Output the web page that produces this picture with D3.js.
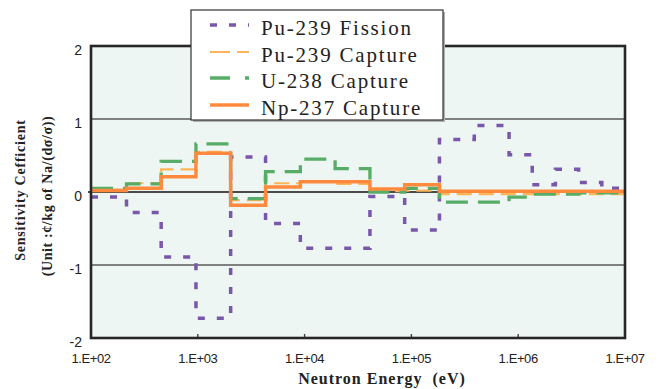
<!DOCTYPE html>
<html>
<head>
<meta charset="utf-8">
<script src="https://cdn.jsdelivr.net/npm/d3@7"></script>
<style>
  html, body { margin: 0; padding: 0; background: #ffffff; }
  svg { display: block; }
</style>
</head>
<body>
<svg id="chart" width="660" height="389"></svg>
<script>
// ---- Data ----
// Energy group boundaries (eV)
const boundaries = [1e2, 2.15e2, 4.54e2, 9.61e2, 2.03e3, 4.31e3, 9.12e3, 1.93e4, 4.09e4, 8.65e4,
                    1.83e5, 3.88e5, 8.21e5, 1.353e6, 2.231e6, 3.679e6, 6.065e6, 1e7];
// Sensitivity values per group (one value per interval)
const pu239Fission = [-0.07, -0.28, -0.89, -1.73, 0.48, -0.43, -0.77, -0.77, -0.06, -0.52,
                      0.72, 0.91, 0.51, 0.10, 0.31, 0.13, 0.05];
const pu239Capture = [0.03, 0.12, 0.31, 0.55, -0.11, 0.12, 0.14, 0.11, 0.01, 0.02,
                      -0.03, -0.03, -0.03, -0.03, -0.03, -0.03, -0.03];
const u238Capture  = [0.05, 0.11, 0.42, 0.66, -0.09, 0.28, 0.45, 0.32, 0.00, 0.05,
                      -0.14, -0.14, -0.07, -0.03, -0.03, -0.01, -0.01];
const np237Capture = [0.02, 0.05, 0.21, 0.53, -0.18, 0.07, 0.14, 0.14, 0.04, 0.10,
                      0.01, 0.01, 0.01, 0.01, 0.01, 0.01, 0.01];
const seriesNames = ["Pu-239 Fission", "Pu-239 Capture", "U-238 Capture", "Np-237 Capture"];
const xTickValues = [1e2, 1e3, 1e4, 1e5, 1e6, 1e7];
const xTickLabels = ["1.E+02", "1.E+03", "1.E+04", "1.E+05", "1.E+06", "1.E+07"];
const yTickValues = [2, 1, 0, -1, -2];

// ---- Styles ----
const styles = [
  { color: "#7957aa", width: 3.5, dash: "7,12",  legendDash: "7,12" },
  { color: "#fdb55a", width: 2.2, dash: "15,7",  legendDash: "20,7" },
  { color: "#57ad68", width: 3.3, dash: "22,10", legendDash: "20,15" },
  { color: "#ff8a3d", width: 3.5, dash: null,    legendDash: null }
];
const seriesData = [pu239Fission, pu239Capture, u238Capture, np237Capture];

const svg = d3.select("#chart");
const L = 91, R = 625, T = 46, B = 338;

const x = d3.scaleLog().domain([1e2, 1e7]).range([L, R]);
const y = d3.scaleLinear().domain([-2, 2]).range([B, T]);

// plot background
svg.append("rect").attr("x", L).attr("y", T).attr("width", R - L).attr("height", B - T)
  .attr("fill", "#edf6f2");

// gridlines at +/-1
svg.append("g").selectAll("line").data([1, -1]).join("line")
  .attr("x1", L).attr("x2", R).attr("y1", d => y(d)).attr("y2", d => y(d))
  .attr("stroke", "#5a5a5a").attr("stroke-width", 1.3);

// zero line
svg.append("line").attr("x1", L - 3).attr("x2", R).attr("y1", y(0)).attr("y2", y(0))
  .attr("stroke", "#4a4a4a").attr("stroke-width", 2.2);

// series
const line = d3.line().x(d => x(d[0])).y(d => y(d[1])).curve(d3.curveStepAfter);
seriesData.forEach((vals, i) => {
  const pts = vals.map((v, j) => [boundaries[j], v]);
  pts.push([boundaries[boundaries.length - 1], vals[vals.length - 1]]);
  const p = svg.append("path").datum(pts)
    .attr("d", line)
    .attr("fill", "none")
    .attr("stroke", styles[i].color)
    .attr("stroke-width", styles[i].width)
    .attr("stroke-linejoin", "miter");
  if (styles[i].dash) p.attr("stroke-dasharray", styles[i].dash);
});

// x tick marks (inside)
svg.append("g").selectAll("line").data(xTickValues.slice(1, -1)).join("line")
  .attr("x1", d => x(d)).attr("x2", d => x(d)).attr("y1", B).attr("y2", B - 4)
  .attr("stroke", "#444").attr("stroke-width", 1.4);

// frame
svg.append("rect").attr("x", L).attr("y", T).attr("width", R - L).attr("height", B - T)
  .attr("fill", "none").attr("stroke", "#262626").attr("stroke-width", 2.6);

// x tick labels
svg.append("g").selectAll("text").data(xTickValues).join("text")
  .attr("x", d => x(d)).attr("y", 363)
  .attr("text-anchor", "middle")
  .attr("font-family", "'Liberation Sans', Arial, sans-serif")
  .attr("font-size", 13).attr("letter-spacing", -0.4)
  .attr("fill", "#222")
  .text((d, i) => xTickLabels[i]);

// y tick labels
svg.append("g").selectAll("text").data(yTickValues).join("text")
  .attr("x", 82).attr("y", d => y(d) + 9)
  .attr("text-anchor", "end")
  .attr("font-family", "'Liberation Sans', Arial, sans-serif")
  .attr("font-size", 14)
  .attr("fill", "#222")
  .text(d => d < 0 ? "-" + Math.abs(d) : String(d));

// axis titles
svg.append("text")
  .attr("x", 382).attr("y", 384)
  .attr("text-anchor", "middle")
  .attr("font-family", "'Liberation Serif', 'Times New Roman', serif")
  .attr("font-weight", "bold").attr("font-size", 16).attr("letter-spacing", 1)
  .attr("fill", "#222")
  .style("white-space", "pre")
  .text("Neutron Energy  (eV)");

svg.append("text")
  .attr("transform", "translate(25,190) rotate(-90)")
  .attr("text-anchor", "middle")
  .attr("font-family", "'Liberation Serif', 'Times New Roman', serif")
  .attr("font-weight", "bold").attr("font-size", 14).attr("letter-spacing", 0.8)
  .attr("fill", "#222")
  .text("Sensitivity Cefficient");

svg.append("text")
  .attr("transform", "translate(52,196) rotate(-90)")
  .attr("text-anchor", "middle")
  .attr("font-family", "'Liberation Serif', 'Times New Roman', serif")
  .attr("font-weight", "bold").attr("font-size", 14).attr("letter-spacing", 0.6)
  .attr("fill", "#222")
  .text("(Unit :\u00a2/kg of Na/(d\u03c3/\u03c3))");

// legend
const lg = svg.append("g");
lg.append("rect").attr("x", 193).attr("y", 12).attr("width", 252).attr("height", 110)
  .attr("fill", "#b0b0b0");
lg.append("rect").attr("x", 191).attr("y", 10).attr("width", 252).attr("height", 110)
  .attr("fill", "#ffffff").attr("stroke", "#333").attr("stroke-width", 1.2);
const rowY = [35, 62, 88, 115];
seriesNames.forEach((name, i) => {
  const ly = rowY[i] - 10;
  const l = lg.append("line").attr("x1", 210).attr("x2", 249).attr("y1", ly).attr("y2", ly)
    .attr("stroke", styles[i].color).attr("stroke-width", styles[i].width);
  if (styles[i].legendDash) l.attr("stroke-dasharray", styles[i].legendDash);
  lg.append("text").attr("x", 261).attr("y", rowY[i])
    .attr("font-family", "'Liberation Serif', 'Times New Roman', serif")
    .attr("font-size", 21).attr("letter-spacing", 1.8)
    .attr("fill", "#222")
    .text(name);
});
</script>
</body>
</html>
